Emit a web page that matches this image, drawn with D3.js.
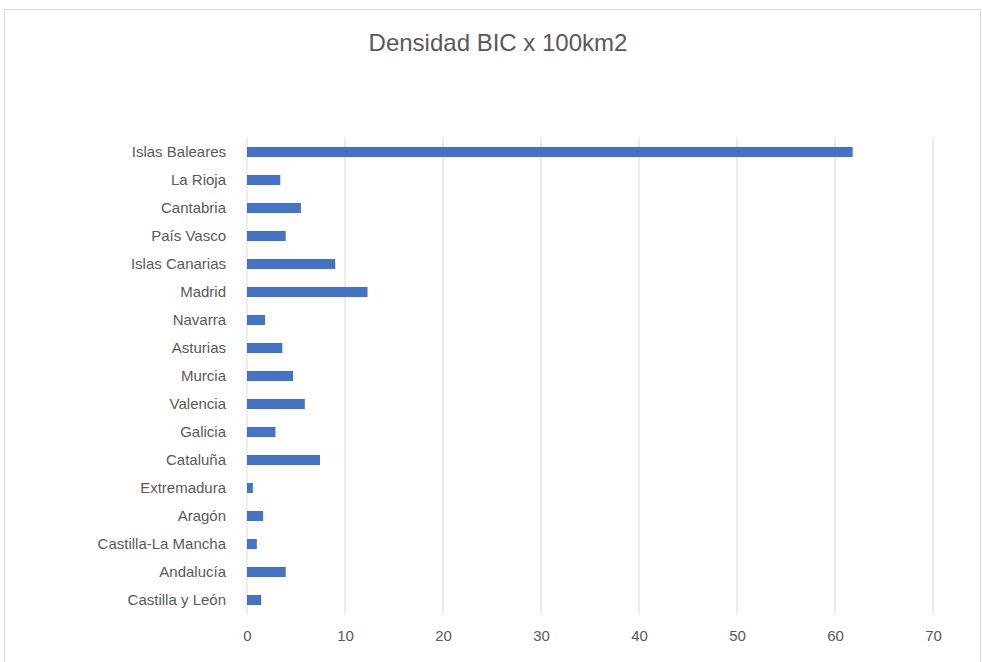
<!DOCTYPE html>
<html>
<head>
<meta charset="utf-8">
<script src="https://cdn.jsdelivr.net/npm/d3@7"></script>
<style>
  body { margin: 0; background: #fff; }
  svg { display: block; font-family: "Liberation Sans", Arial, sans-serif; }
</style>
</head>
<body>
<svg id="chart" width="982" height="662"></svg>
<script>
// regions, top to bottom as drawn
const regions = [
  "Islas Baleares", "La Rioja", "Cantabria", "País Vasco", "Islas Canarias",
  "Madrid", "Navarra", "Asturias", "Murcia", "Valencia", "Galicia",
  "Cataluña", "Extremadura", "Aragón", "Castilla-La Mancha", "Andalucía",
  "Castilla y León"
];
const density = [
  61.8, 3.4, 5.5, 3.95, 9.0,
  12.3, 1.85, 3.6, 4.7, 5.9, 2.9,
  7.45, 0.6, 1.65, 1.0, 3.95,
  1.45
];
const xTicks = [0, 10, 20, 30, 40, 50, 60, 70];
const title = "Densidad BIC x 100km2";

const svg = d3.select("#chart");
const margin = { top: 138, right: 49, bottom: 48, left: 247 };
const width = 982 - margin.left - margin.right;
const height = 662 - margin.top - margin.bottom;

// chart frame
svg.append("rect")
  .attr("x", 4.5).attr("y", 9.5)
  .attr("width", 976).attr("height", 700)
  .attr("fill", "none").attr("stroke", "#d9d9d9");

svg.append("text")
  .attr("x", 498).attr("y", 51)
  .attr("text-anchor", "middle")
  .attr("fill", "#595959")
  .style("font-size", "24px")
  .text(title);

const g = svg.append("g")
  .attr("transform", `translate(${margin.left},${margin.top})`);

const x = d3.scaleLinear().domain([0, 70]).range([0, width]);
const y = d3.scaleBand().domain(regions).range([0, height]).paddingInner(0.64).paddingOuter(0.32);

// gridlines
g.append("g")
  .selectAll("line")
  .data(xTicks)
  .enter().append("line")
  .attr("x1", (d) => x(d)).attr("x2", (d) => x(d))
  .attr("y1", 0).attr("y2", height)
  .attr("stroke", "#d9d9d9")
  .attr("stroke-width", 1);

// bars
g.append("g")
  .selectAll("rect")
  .data(regions)
  .enter().append("rect")
  .attr("x", x(0))
  .attr("y", (d) => y(d))
  .attr("width", (d, i) => x(density[i]) - x(0))
  .attr("height", y.bandwidth())
  .attr("fill", "#4472c4");

// category axis
const yAxis = g.append("g")
  .call(d3.axisLeft(y).tickSize(0).tickPadding(21));
yAxis.select(".domain").remove();
yAxis.selectAll("text")
  .attr("fill", "#595959")
  .style("font-size", "15px");

// value axis
const xAxis = g.append("g")
  .attr("transform", `translate(0,${height})`)
  .call(d3.axisBottom(x).tickValues(xTicks).tickSize(0).tickPadding(16));
xAxis.select(".domain").remove();
xAxis.selectAll("text")
  .attr("fill", "#595959")
  .style("font-size", "15px");
</script>
</body>
</html>
